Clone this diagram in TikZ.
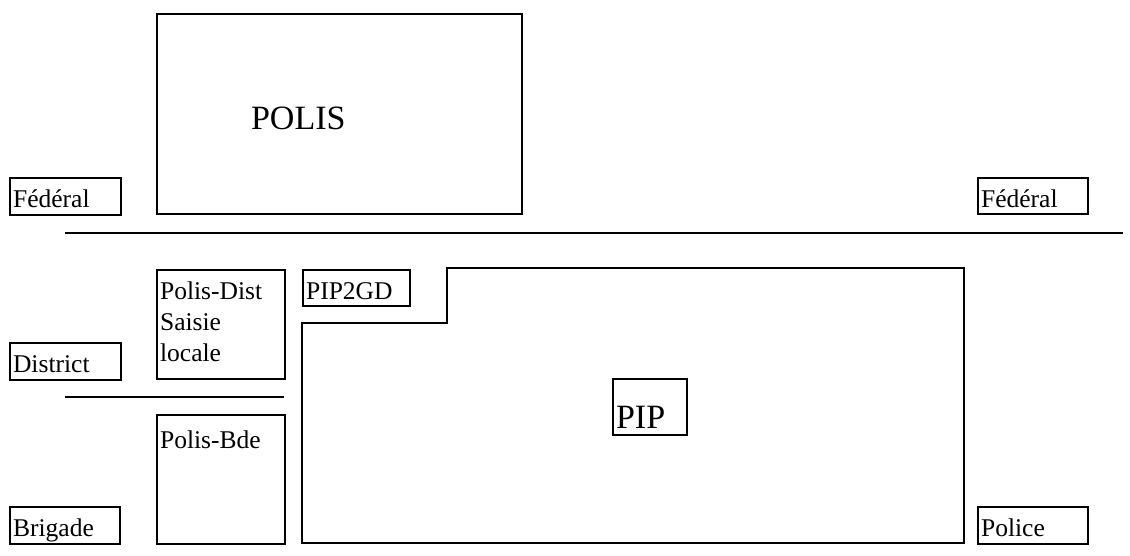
\documentclass[tikz,border=0pt]{standalone}
\usepackage{fontspec}
\setmainfont{Liberation Serif}
\def\pxu{0.47pt}
\tikzset{
  box/.style 2 args={draw, anchor=north west, inner xsep=3*\pxu, inner ysep=\pxu,
    minimum width=#1*\pxu, minimum height=#2*\pxu, text width=(#1-6)*\pxu,
    text height=28*\pxu, text depth=(#2-30)*\pxu, align=left},
  bigtext/.style={font=\fontsize{16}{18}\selectfont}
}
\begin{document}
\begin{tikzpicture}[x=0.47pt, y=-0.47pt, line width=1pt, font=\fontsize{12}{14.6}\selectfont]
  \useasboundingbox (0,0) rectangle (1130,555);
  \node[draw, anchor=north west, minimum width=365*\pxu, minimum height=200*\pxu] (polis) at (156,13) {};
  \node[bigtext, anchor=base west, inner sep=0] (polisname) at (250,129) {POLIS};
  \node[box={111}{37}] (fedL) at (9,177) {Fédéral};
  \node[box={110}{36}] (fedR) at (977,177) {Fédéral};
  \node[box={111}{37}] (district) at (9,342) {District};
  \node[box={110}{37}] (brigade) at (9,506) {Brigade};
  \node[box={110}{37}] (police) at (977,506) {Police};
  \node[box={128}{109}] (polisdist) at (156,269) {Polis-Dist\\Saisie\\locale};
  \node[box={128}{129}, text height=32*\pxu, text depth=95*\pxu] (polisbde) at (156,414) {Polis-Bde};
  \node[box={107}{36}] (pip2gd) at (302,269) {PIP2GD};
  \draw (447,268) -- (964,268) -- (964,543) -- (302,543) -- (302,323) -- (447,323) -- cycle;
  \node[box={74}{55}, bigtext, text height=48*\pxu, text depth=6*\pxu] (pip) at (612,378) {PIP};
  \coordinate (fedlineL) at (65,233);
  \coordinate (fedlineR) at (1123,233);
  \coordinate (distlineL) at (65,397);
  \coordinate (distlineR) at (284,397);
  \draw (fedlineL) -- (fedlineR);
  \draw (distlineL) -- (distlineR);
\end{tikzpicture}
\end{document}
